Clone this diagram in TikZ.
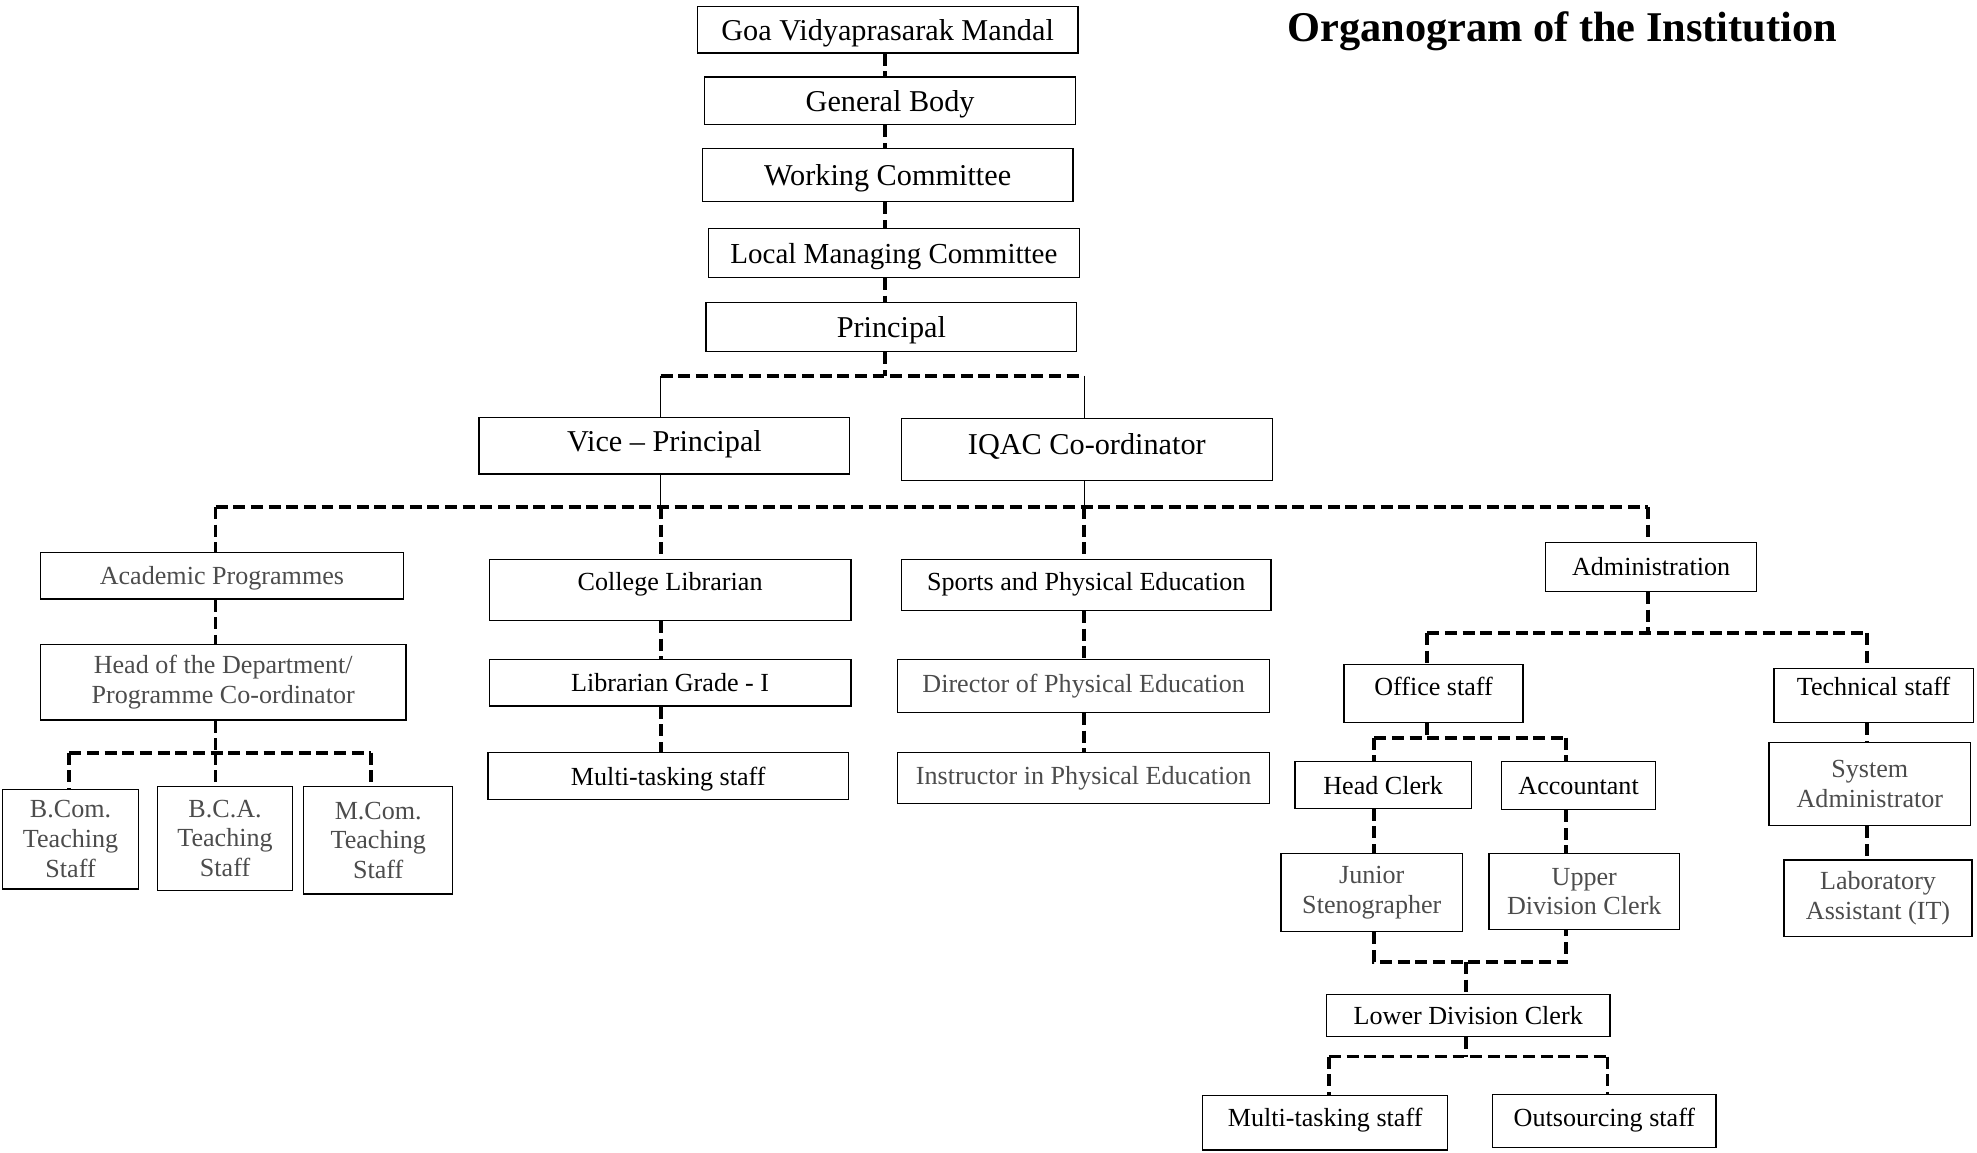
\documentclass[tikz,border=0pt]{standalone}
\usepackage{fontspec}
\setmainfont{Liberation Serif}
\begin{document}
\begin{tikzpicture}[x=1pt,y=-1pt,
  box/.style={draw, line width=1pt, inner sep=0pt, align=center, font=\fontsize{20.7}{23.5}\selectfont},
  one/.style={text height=19pt, text depth=4.5pt},
  topbox/.style={box, font=\fontsize{24}{27}\selectfont, text height=21.5pt, text depth=5pt},
  faded/.style={text=black!70},
  dline/.style={line width=3pt, dash pattern=on 9.5pt off 4.5pt},
  sline/.style={line width=1pt}]
\useasboundingbox (0,0) rectangle (1568,914);
% title
\node[anchor=base, font=\fontsize{33.6}{36}\selectfont\bfseries, inner sep=0pt] (title) at (1239,33) {Organogram of the Institution};
% top chain
\node[topbox, minimum width=302pt, minimum height=37pt] (goa) at (704,23.5) {Goa Vidyaprasarak Mandal};
\node[topbox, minimum width=294pt, minimum height=38pt] (gb) at (706,80) {General Body};
\node[topbox, minimum width=294pt, minimum height=42pt] (wc) at (704,139) {Working Committee};
\node[topbox, minimum width=294pt, minimum height=39pt, font=\fontsize{23}{26}\selectfont] (lmc) at (709,200.5) {Local Managing Committee};
\node[topbox, minimum width=294pt, minimum height=39pt] (pr) at (707,259.5) {Principal};
\node[topbox, minimum width=294pt, minimum height=45pt, text depth=12pt] (vp) at (527,353.5) {Vice -- Principal};
\node[topbox, minimum width=294pt, minimum height=49pt, text depth=14pt] (iq) at (862,356.5) {IQAC Co-ordinator};
% academic
\node[box, one, faded, minimum width=288pt, minimum height=37pt] (ap) at (176,456.5) {Academic Programmes};
\node[box, faded, minimum width=290pt, minimum height=60pt] (hod) at (177,541) {Head of the Department/\\Programme Co-ordinator};
\node[box, faded, minimum width=108pt, minimum height=79pt] (bcom) at (56,665.5) {B.Com.\\Teaching\\Staff};
\node[box, faded, minimum width=107pt, minimum height=82pt] (bca) at (178.5,665) {B.C.A.\\Teaching\\Staff};
\node[box, faded, minimum width=118pt, minimum height=85pt] (mcom) at (300,666.5) {M.Com.\\Teaching\\Staff};
% library
\node[box, one, text depth=18.5pt, minimum width=287pt, minimum height=48pt] (cl) at (531.5,468) {College Librarian};
\node[box, one, minimum width=287pt, minimum height=37pt] (lg) at (531.5,541.5) {Librarian Grade - I};
\node[box, one, minimum width=286pt, minimum height=37pt] (mtsa) at (530,615.5) {Multi-tasking staff};
% sports
\node[box, one, text depth=10.5pt, minimum width=293pt, minimum height=40pt] (sp) at (861.5,464) {Sports and Physical Education};
\node[box, one, faded, text depth=8.5pt, minimum width=295pt, minimum height=42pt] (dpe) at (859.5,544) {Director of Physical Education};
\node[box, one, faded, text depth=8.5pt, minimum width=295pt, minimum height=40pt] (ipe) at (859.5,617) {Instructor in Physical Education};
% administration
\node[box, one, minimum width=167pt, minimum height=39pt] (adm) at (1309.5,449.5) {Administration};
\node[box, one, text depth=16.5pt, minimum width=142pt, minimum height=46pt] (off) at (1137,550) {Office staff};
\node[box, one, text depth=19.5pt, minimum width=158pt, minimum height=43pt] (tech) at (1486,551.5) {Technical staff};
\node[box, one, minimum width=140pt, minimum height=37pt] (hc) at (1097,622.5) {Head Clerk};
\node[box, one, minimum width=122pt, minimum height=38pt] (acc) at (1252,623) {Accountant};
\node[box, faded, minimum width=144pt, minimum height=62pt] (js) at (1088,708) {Junior\\Stenographer};
\node[box, faded, minimum width=151pt, minimum height=60pt] (udc) at (1256.5,707) {Upper\\Division Clerk};
\node[box, one, minimum width=225pt, minimum height=33pt] (ldc) at (1164.5,805.5) {Lower Division Clerk};
\node[box, one, text depth=13.5pt, minimum width=194pt, minimum height=43pt] (mtsb) at (1051,890.5) {Multi-tasking staff};
\node[box, one, text depth=10.5pt, minimum width=177pt, minimum height=42pt] (out) at (1272.5,889) {Outsourcing staff};
\node[box, faded, minimum width=160pt, minimum height=66pt] (sa) at (1483,622) {System\\Administrator};
\node[box, faded, minimum width=149pt, minimum height=61pt] (la) at (1489.5,712.5) {Laboratory\\Assistant (IT)};
% junction coordinates
\coordinate (spine) at (702,298);
\coordinate (jVP) at (524,298);
\coordinate (jIQ) at (860,298);
\coordinate (jA) at (171,402);
\coordinate (jL) at (524,402);
\coordinate (jS) at (860,402);
\coordinate (jAd) at (1307,402);
\coordinate (jT) at (171,597);
\coordinate (tB) at (55,597);
\coordinate (tM) at (294,597);
\coordinate (jAd2) at (1307,502);
\coordinate (oL) at (1132,502);
\coordinate (tR) at (1481,502);
\coordinate (oJ) at (1132,585);
\coordinate (hcX) at (1090,585);
\coordinate (acX) at (1242,585);
\coordinate (mL) at (1090,763);
\coordinate (mR) at (1242,763);
\coordinate (mC) at (1163,763);
\coordinate (lJ) at (1163,838);
\coordinate (lL) at (1054,838);
\coordinate (lR) at (1275,838);
% top chain connectors
\draw[dline] (goa.south -| spine) -- (gb.north -| spine);
\draw[dline] (gb.south -| spine) -- (wc.north -| spine);
\draw[dline] (wc.south -| spine) -- (lmc.north -| spine);
\draw[dline] (lmc.south -| spine) -- (pr.north -| spine);
\draw[dline] (pr.south -| spine) -- (spine);
\draw[dline] (jVP) -- (jIQ);
\draw[sline] (jVP) -- (vp.north -| jVP);
\draw[sline] (jIQ) -- (iq.north -| jIQ);
\draw[sline] (vp.south -| jL) -- (jL);
\draw[sline] (iq.south -| jS) -- (jS);
% main bar
\draw[dline] (jA) -- (jAd);
\draw[dline] (jA) -- (ap.north -| jA);
\draw[dline] (jL) -- (cl.north -| jL);
\draw[dline] (jS) -- (sp.north -| jS);
\draw[dline] (jAd) -- (adm.north -| jAd);
% academic
\draw[dline] (ap.south -| jA) -- (hod.north -| jA);
\draw[dline] (hod.south -| jT) -- (jT);
\draw[dline] (tB) -- (tM);
\draw[dline] (tB) -- (bcom.north -| tB);
\draw[dline] (jT) -- (bca.north -| jT);
\draw[dline] (tM) -- (mcom.north -| tM);
% library
\draw[dline] (cl.south -| jL) -- (lg.north -| jL);
\draw[dline] (lg.south -| jL) -- (mtsa.north -| jL);
% sports
\draw[dline] (sp.south -| jS) -- (dpe.north -| jS);
\draw[dline] (dpe.south -| jS) -- (ipe.north -| jS);
% administration
\draw[dline] (adm.south -| jAd) -- (jAd2);
\draw[dline] (oL) -- (tR);
\draw[dline] (oL) -- (off.north -| oL);
\draw[dline] (tR) -- (tech.north -| tR);
\draw[dline] (off.south -| oJ) -- (oJ);
\draw[dline] (hcX) -- (acX);
\draw[dline] (hcX) -- (hc.north -| hcX);
\draw[dline] (acX) -- (acc.north -| acX);
\draw[dline] (hc.south -| hcX) -- (js.north -| hcX);
\draw[dline] (acc.south -| acX) -- (udc.north -| acX);
\draw[dline] (js.south -| mL) -- (mL) -- (mR) -- (udc.south -| mR);
\draw[dline] (mC) -- (ldc.north -| mC);
\draw[dline] (ldc.south -| lJ) -- (lJ);
\draw[dline] (lL) -- (lR);
\draw[dline] (lL) -- (mtsb.north -| lL);
\draw[dline] (lR) -- (out.north -| lR);
\draw[dline] (tech.south -| tR) -- (sa.north -| tR);
\draw[dline] (sa.south -| tR) -- (la.north -| tR);
\end{tikzpicture}
\end{document}
